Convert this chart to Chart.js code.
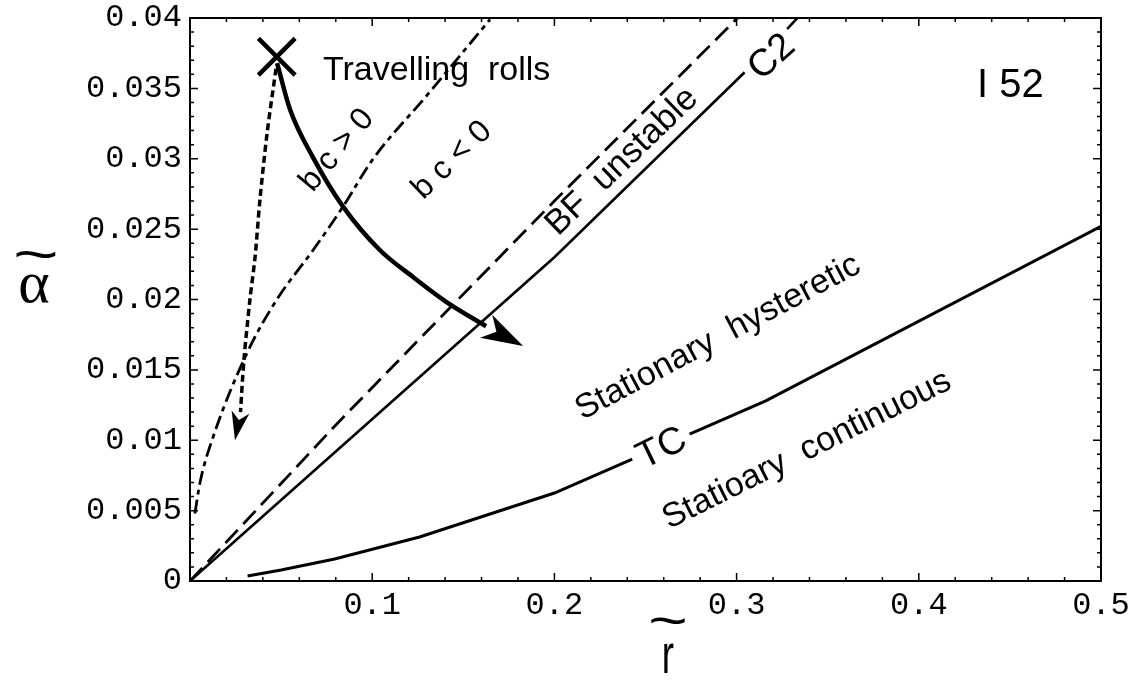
<!DOCTYPE html>
<html>
<head>
<meta charset="utf-8">
<script src="https://cdn.jsdelivr.net/npm/chart.js@4.4.1/dist/chart.umd.min.js"></script>
<style>
  html, body { margin: 0; padding: 0; background: #fff; }
  #wrap { width: 1141px; height: 685px; }
</style>
</head>
<body>
<div id="wrap"><canvas id="c" width="1141" height="685"></canvas></div>
<script>
// boundary lines (r~, alpha~)
var c2_r = [0, 0.2, 0.316, 0.5];
var c2_a = [0, 0.0230, 0.0376, 0.063];
var bf_r = [0, 0.0794, 0.126, 0.2, 0.316];
var bf_a = [0, 0.0110, 0.0172, 0.0270, 0.0420];
var tc_r = [0.0316, 0.05, 0.0794, 0.126, 0.2, 0.316, 0.5];
var tc_a = [0.00036, 0.00078, 0.00156, 0.00313, 0.00625, 0.0128, 0.0252];
var bc_r = [0.0027, 0.0055, 0.0126, 0.0313, 0.0477, 0.0675, 0.084, 0.1, 0.13, 0.1647];
var bc_a = [0.0048, 0.0070, 0.0102, 0.0162, 0.0200, 0.0235, 0.0266, 0.0299, 0.0345, 0.0399];

// arrows starting at the travelling rolls point
var mark_r = [0.0476];
var mark_a = [0.03725];
var arc_r = [0.0478, 0.0549, 0.0675, 0.0840, 0.1043, 0.1224, 0.1410, 0.1625];
var arc_a = [0.0368, 0.0335, 0.0301, 0.0266, 0.0235, 0.0216, 0.0198, 0.0181];
var arcTip = [0.1828, 0.0167];
var dot_r = [0.0472, 0.0423, 0.0384, 0.0357, 0.0329, 0.0296, 0.0277];
var dot_a = [0.0364, 0.0318, 0.0271, 0.0230, 0.0200, 0.0157, 0.0120];
var dotTip = [0.0247, 0.0100];

// ticks
var xTicks = [0, 0.1, 0.2, 0.3, 0.4, 0.5];
var xTickLabels = ['', '0.1', '0.2', '0.3', '0.4', '0.5'];
var yTicks = [0, 0.005, 0.01, 0.015, 0.02, 0.025, 0.03, 0.035, 0.04];
var yTickLabels = ['0', '0.005', '0.01', '0.015', '0.02', '0.025', '0.03', '0.035', '0.04'];

var notes = [
  { text: 'Travelling  rolls', r: 0.073, a: 0.0356, rot: 0, align: 'left', base: 'alphabetic', size: 34 },
  { text: 'I 52', r: 0.432, a: 0.0344, rot: 0, align: 'left', base: 'alphabetic', size: 40 },
  { text: 'b c > 0', r: 0.0807, a: 0.0306, rot: 50, size: 32 },
  { text: 'b c < 0', r: 0.1438, a: 0.0299, rot: 44, size: 32 },
  { text: 'BF  unstable', r: 0.2371, a: 0.0298, rot: 44, size: 35 },
  { text: 'C2', r: 0.3194, a: 0.0372, rot: 42, size: 38, bg: true },
  { text: 'Stationary  hysteretic', r: 0.2898, a: 0.0173, rot: 28, size: 34 },
  { text: 'TC', r: 0.259, a: 0.0094, rot: 26, size: 38, bg: true },
  { text: 'Statioary  continuous', r: 0.3386, a: 0.0093, rot: 26.5, size: 34 }
];

function pts(xs, ys) {
  return xs.map(function (x, i) { return { x: x, y: ys[i] }; });
}

function arrowHead(ctx, bx, by, tx, ty, halfW) {
  var dx = tx - bx, dy = ty - by;
  var len = Math.sqrt(dx * dx + dy * dy);
  var ux = dx / len, uy = dy / len;
  var px = -uy, py = ux;
  ctx.beginPath();
  ctx.moveTo(tx, ty);
  ctx.lineTo(bx + px * halfW, by + py * halfW);
  ctx.lineTo(tx - ux * len * 0.72, ty - uy * len * 0.72);
  ctx.lineTo(bx - px * halfW, by - py * halfW);
  ctx.closePath();
  ctx.fill();
}

var overlay = {
  id: 'overlay',
  afterDatasetsDraw: function (chart) {
    var ctx = chart.ctx, xs = chart.scales.x, ys = chart.scales.y;
    ctx.save();
    ctx.fillStyle = '#000';
    // arrow heads
    var n = arc_r.length - 1;
    arrowHead(ctx, xs.getPixelForValue(arc_r[n]), ys.getPixelForValue(arc_a[n]),
      xs.getPixelForValue(arcTip[0]), ys.getPixelForValue(arcTip[1]), 13);
    n = dot_r.length - 1;
    arrowHead(ctx, xs.getPixelForValue(dot_r[n]), ys.getPixelForValue(dot_a[n]),
      xs.getPixelForValue(dotTip[0]), ys.getPixelForValue(dotTip[1]), 9);

    // region labels
    notes.forEach(function (t) {
      var x = xs.getPixelForValue(t.r), y = ys.getPixelForValue(t.a);
      ctx.save();
      ctx.translate(x, y);
      ctx.rotate(-t.rot * Math.PI / 180);
      ctx.font = t.size + 'px "Liberation Sans", Arial, sans-serif';
      ctx.textAlign = t.align || 'center';
      ctx.textBaseline = t.base || 'middle';
      if (t.bg) {
        var w = ctx.measureText(t.text).width;
        ctx.fillStyle = '#fff';
        ctx.fillRect(-w / 2 - 6, -t.size * 0.45, w + 12, t.size * 0.9);
      }
      ctx.fillStyle = '#000';
      ctx.fillText(t.text, 0, 0);
      ctx.restore();
    });
    ctx.restore();
  },
  afterDraw: function (chart) {
    var ctx = chart.ctx, a = chart.chartArea, xs = chart.scales.x, ys = chart.scales.y;
    ctx.save();
    ctx.strokeStyle = '#000';
    ctx.lineWidth = 2;
    ctx.strokeRect(a.left, a.top, a.right - a.left, a.bottom - a.top);
    ctx.lineWidth = 1.5;
    ctx.beginPath();
    var v, px, len, i;
    for (i = 0; i <= 25; i++) {
      v = i * 0.02;
      px = xs.getPixelForValue(v);
      len = (i % 5 === 0) ? 8 : 4;
      ctx.moveTo(px, a.bottom); ctx.lineTo(px, a.bottom - len);
      ctx.moveTo(px, a.top); ctx.lineTo(px, a.top + len);
    }
    for (i = 0; i <= 40; i++) {
      v = i * 0.001;
      px = ys.getPixelForValue(v);
      len = (i % 5 === 0) ? 8 : 4;
      ctx.moveTo(a.left, px); ctx.lineTo(a.left + len, px);
      ctx.moveTo(a.right, px); ctx.lineTo(a.right - len, px);
    }
    ctx.stroke();

    // axis titles: alpha~ and r~
    ctx.fillStyle = '#000';
    ctx.textAlign = 'center';
    ctx.textBaseline = 'middle';
    ctx.save();
    ctx.translate(36, 258);
    ctx.scale(1.4, 1);
    ctx.font = '56px "Liberation Sans", Arial, sans-serif';
    ctx.fillText('~', 0, 0);
    ctx.restore();
    ctx.font = '60px "Liberation Serif", "Times New Roman", serif';
    ctx.fillText('α', 34, 286);

    ctx.save();
    ctx.translate(668, 624);
    ctx.scale(1.3, 1);
    ctx.font = '52px "Liberation Sans", Arial, sans-serif';
    ctx.fillText('~', 0, 0);
    ctx.restore();
    ctx.save();
    ctx.translate(668, 658);
    ctx.scale(0.8, 1.2);
    ctx.font = '46px "Liberation Sans", Arial, sans-serif';
    ctx.fillText('r', 0, 0);
    ctx.restore();
    ctx.restore();
  }
};

var lineBase = { pointRadius: 0, fill: false, borderColor: '#000', borderCapStyle: 'butt' };

new Chart(document.getElementById('c'), {
  type: 'scatter',
  data: {
    datasets: [
      Object.assign({ label: 'C2', data: pts(c2_r, c2_a), showLine: true, borderWidth: 2.6 }, lineBase),
      Object.assign({ label: 'BF unstable', data: pts(bf_r, bf_a), showLine: true, borderWidth: 2.8, borderDash: [18, 8] }, lineBase),
      Object.assign({ label: 'TC', data: pts(tc_r, tc_a), showLine: true, borderWidth: 3 }, lineBase),
      Object.assign({ label: 'bc = 0', data: pts(bc_r, bc_a), showLine: true, borderWidth: 2.8, borderDash: [14, 5, 5, 5], cubicInterpolationMode: 'monotone' }, lineBase),
      Object.assign({ label: 'path', data: pts(arc_r, arc_a), showLine: true, borderWidth: 4.5, cubicInterpolationMode: 'monotone' }, lineBase),
      Object.assign({ label: 'path2', data: pts(dot_r, dot_a), showLine: true, borderWidth: 3.5, borderDash: [7, 4], tension: 0.3 }, lineBase),
      { label: 'Travelling rolls', data: pts(mark_r, mark_a), showLine: false, pointStyle: 'crossRot',
        pointRadius: 26, pointBorderWidth: 4.5, borderColor: '#000', backgroundColor: '#000' }
    ]
  },
  options: {
    responsive: false,
    animation: false,
    devicePixelRatio: 1,
    layout: { autoPadding: false, padding: { top: 18, right: 40, left: 0, bottom: 0 } },
    plugins: { legend: { display: false }, tooltip: { enabled: false } },
    scales: {
      x: {
        type: 'linear', min: 0, max: 0.5,
        grid: { display: false, drawTicks: false },
        border: { display: false },
        afterBuildTicks: function (s) { s.ticks = xTicks.map(function (v) { return { value: v }; }); },
        afterFit: function (s) { s.height = 104; },
        ticks: {
          padding: 5, color: '#000', maxRotation: 0, autoSkip: false,
          font: { family: '"Liberation Mono", "Courier New", monospace', size: 32 },
          callback: function (v, i) { return xTickLabels[i]; }
        }
      },
      y: {
        type: 'linear', min: 0, max: 0.04,
        grid: { display: false, drawTicks: false },
        border: { display: false },
        afterBuildTicks: function (s) { s.ticks = yTicks.map(function (v) { return { value: v }; }); },
        afterFit: function (s) { s.width = 190; },
        ticks: {
          padding: 8, color: '#000', autoSkip: false,
          font: { family: '"Liberation Mono", "Courier New", monospace', size: 32, lineHeight: 0.5 },
          callback: function (v, i) { return yTickLabels[i]; }
        }
      }
    }
  },
  plugins: [overlay]
});
</script>
</body>
</html>
